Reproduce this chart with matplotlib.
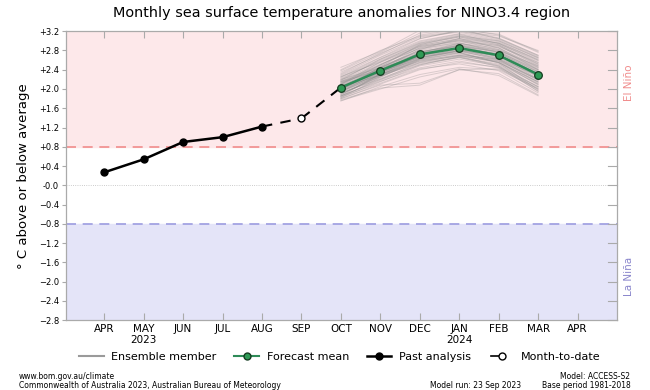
import matplotlib.pyplot as plt
import matplotlib.lines as mlines
from matplotlib.legend_handler import HandlerBase
import numpy as np

# month positions: 0 = APR 2023 ... 12 = APR 2024
months = ['APR', 'MAY\n2023', 'JUN', 'JUL', 'AUG', 'SEP', 'OCT', 'NOV',
          'DEC', 'JAN\n2024', 'FEB', 'MAR', 'APR']

past_x = [0, 1, 2, 3, 4]
past_vals = [0.27, 0.54, 0.90, 1.00, 1.22]

mtd_x = [5]
mtd_vals = [1.39]

fc_x = [6, 7, 8, 9, 10, 11]
fc_mean = [2.03, 2.38, 2.72, 2.85, 2.70, 2.30]

# ensemble members (OCT..MAR)
ensemble = [
    [1.95, 2.30, 2.65, 2.80, 2.65, 2.25],
    [2.10, 2.45, 2.80, 2.95, 2.80, 2.40],
    [1.85, 2.20, 2.55, 2.70, 2.55, 2.15],
    [2.20, 2.60, 2.95, 3.10, 2.95, 2.55],
    [2.00, 2.35, 2.70, 2.85, 2.70, 2.30],
    [1.90, 2.25, 2.60, 2.75, 2.55, 2.10],
    [2.15, 2.50, 2.85, 3.00, 2.90, 2.50],
    [1.80, 2.10, 2.40, 2.55, 2.45, 2.05],
    [2.05, 2.40, 2.75, 2.90, 2.75, 2.35],
    [2.25, 2.65, 3.00, 3.15, 3.00, 2.65],
    [1.95, 2.35, 2.75, 2.95, 2.85, 2.45],
    [2.05, 2.30, 2.60, 2.70, 2.55, 2.15],
    [1.88, 2.28, 2.68, 2.88, 2.78, 2.38],
    [2.12, 2.42, 2.70, 2.80, 2.60, 2.20],
    [1.98, 2.40, 2.82, 3.05, 2.95, 2.60],
    [2.30, 2.70, 3.05, 3.20, 3.05, 2.70],
    [1.75, 2.05, 2.30, 2.45, 2.40, 2.00],
    [2.00, 2.38, 2.66, 2.78, 2.62, 2.22],
    [2.08, 2.50, 2.90, 3.05, 2.85, 2.40],
    [1.92, 2.22, 2.52, 2.65, 2.50, 2.05],
    [2.18, 2.55, 2.88, 3.00, 2.82, 2.42],
    [1.85, 2.32, 2.72, 2.92, 2.80, 2.48],
    [2.02, 2.36, 2.68, 2.82, 2.68, 2.28],
    [2.10, 2.48, 2.78, 2.88, 2.72, 2.32],
    [1.96, 2.28, 2.58, 2.72, 2.60, 2.18],
    [2.22, 2.58, 2.92, 3.08, 2.92, 2.52],
    [1.82, 2.15, 2.48, 2.62, 2.48, 1.95],
    [2.06, 2.44, 2.82, 2.98, 2.88, 2.55],
    [1.94, 2.30, 2.62, 2.76, 2.58, 2.12],
    [2.14, 2.46, 2.74, 2.86, 2.66, 2.26],
    [2.40, 2.80, 3.10, 3.20, 3.10, 2.80],
    [1.78, 2.02, 2.08, 2.40, 2.32, 1.88],
    [2.00, 2.42, 2.86, 3.02, 2.90, 2.48],
    [2.04, 2.34, 2.64, 2.80, 2.70, 2.34],
    [1.90, 2.26, 2.64, 2.84, 2.74, 2.36],
    [2.16, 2.52, 2.84, 2.96, 2.76, 2.30],
    [1.98, 2.32, 2.70, 2.86, 2.72, 2.26],
    [2.08, 2.40, 2.76, 2.94, 2.82, 2.44],
    [1.86, 2.18, 2.50, 2.68, 2.58, 2.20],
    [2.24, 2.62, 2.96, 3.12, 2.98, 2.60],
    [2.02, 2.44, 2.78, 2.90, 2.70, 2.20],
    [1.94, 2.26, 2.56, 2.70, 2.62, 2.28],
    [2.12, 2.50, 2.88, 3.02, 2.86, 2.46],
    [1.80, 2.08, 2.12, 2.40, 2.42, 2.02],
    [2.06, 2.36, 2.62, 2.74, 2.56, 2.08],
    [2.45, 2.78, 3.22, 3.26, 3.12, 2.76],
    [2.35, 2.72, 3.12, 3.24, 3.06, 2.70],
    [1.76, 2.00, 2.25, 2.42, 2.28, 1.86],
    [2.28, 2.66, 3.04, 3.22, 3.14, 2.78],
    [1.84, 2.12, 2.42, 2.52, 2.38, 1.92],
    [2.18, 2.62, 2.98, 3.14, 2.94, 2.58],
    [1.92, 2.20, 2.50, 2.66, 2.46, 2.00],
    [2.26, 2.56, 2.90, 3.04, 2.92, 2.52],
    [1.88, 2.30, 2.70, 2.84, 2.62, 2.14],
    [2.32, 2.74, 3.08, 3.18, 3.02, 2.66],
    [1.82, 2.24, 2.62, 2.80, 2.68, 2.32],
    [2.14, 2.38, 2.66, 2.76, 2.54, 1.98],
    [1.98, 2.46, 2.92, 3.10, 3.00, 2.64],
    [2.20, 2.44, 2.68, 2.78, 2.64, 2.18],
    [1.96, 2.34, 2.76, 2.92, 2.76, 2.40],
    [2.04, 2.28, 2.54, 2.66, 2.52, 2.10],
    [2.10, 2.56, 2.94, 3.08, 2.96, 2.62],
    [1.86, 2.16, 2.44, 2.58, 2.44, 1.96],
    [2.38, 2.76, 3.16, 3.24, 3.04, 2.68],
    [2.00, 2.30, 2.58, 2.68, 2.48, 2.04],
    [2.16, 2.40, 2.72, 2.90, 2.78, 2.36],
]

yticks = np.arange(-2.8, 3.21, 0.4)
ytick_labels = []
for v in yticks:
    if abs(v) < 0.01:
        ytick_labels.append('-0.0')
    elif v > 0:
        ytick_labels.append('+%.1f' % v)
    else:
        ytick_labels.append('\u2212%.1f' % abs(v))


class HandlerMTD(HandlerBase):
    # short line on the left, open circle on the right
    def create_artists(self, legend, orig_handle, xdescent, ydescent,
                       width, height, fontsize, trans):
        y = height / 2 - ydescent
        x0 = -xdescent + width * 0.1
        line = mlines.Line2D([x0, x0 + width * 0.3], [y, y], color='black',
                             lw=1.2, transform=trans)
        mk = mlines.Line2D([x0 + width * 0.42], [y], ls='none', marker='o',
                           ms=5, mfc='white', mec='black', mew=1,
                           transform=trans)
        return [line, mk]


fig = plt.figure(figsize=(6.5, 3.9), dpi=100)
ax = fig.add_axes([0.1015, 0.179, 0.8477, 0.741])

ax.set_xlim(-0.97, 13.0)
ax.set_ylim(-2.8, 3.2)

# shaded regions
ax.axhspan(0.8, 3.2, color='#fde8ea', zorder=0)
ax.axhspan(-2.8, -0.8, color='#e4e4f8', zorder=0)
ax.axhline(0.8, color='#f08c8c', lw=1.2, dashes=(6, 4), zorder=1)
ax.axhline(-0.8, color='#9c9ce0', lw=1.2, dashes=(6, 4), zorder=1)
ax.axhline(0.0, color='#bbbbbb', lw=0.6, ls=':', zorder=1)

# ensemble
for mem in ensemble:
    ax.plot(fc_x, mem, color='#888888', lw=0.7, alpha=0.3, zorder=2)

# past analysis
ax.plot(past_x, past_vals, color='black', lw=1.8, marker='o', ms=5, zorder=4)
# dashed link to month-to-date and forecast
ax.plot([past_x[-1], mtd_x[0]], [past_vals[-1], mtd_vals[0]], color='black',
        lw=1.5, dashes=(5, 4), zorder=4)
ax.plot([mtd_x[0], fc_x[0]], [mtd_vals[0], fc_mean[0]], color='black',
        lw=1.5, dashes=(5, 4), zorder=4)
ax.plot(mtd_x, mtd_vals, ls='none', marker='o', ms=5, mfc='white',
        mec='black', mew=1, zorder=5)

# forecast mean
ax.plot(fc_x, fc_mean, color='#2e8b57', lw=1.8, marker='o', ms=5.5,
        mfc='#2e9a55', mec='#143c20', mew=0.9, zorder=5)

ax.set_xticks(range(len(months)))
ax.set_xticklabels(months, fontsize=7.5, linespacing=1.1)
ax.set_yticks(yticks)
ax.set_yticklabels(ytick_labels, fontsize=6)
ax.tick_params(axis='x', direction='in', length=5, color='#aaaaaa',
               top=True, pad=3)
ax.tick_params(axis='y', direction='out', length=3, color='#aaaaaa',
               pad=2, right=False)
# right-side inward ticks
for v in yticks:
    ax.plot([12.78, 13.0], [v, v], color='#aaaaaa', lw=0.8, zorder=3,
            clip_on=False)
for s in ax.spines.values():
    s.set_color('#aaaaaa')
    s.set_linewidth(0.9)

ax.set_ylabel('\u00b0 C above or below average', fontsize=9.5, labelpad=6)
ax.set_title('Monthly sea surface temperature anomalies for NINO3.4 region',
             fontsize=10.35, pad=10.5)

ax.text(1.012, 0.82, 'El Ni\u00f1o', transform=ax.transAxes, rotation=90,
        color='#f08c8c', fontsize=7.5, ha='left', va='center')
ax.text(1.012, 0.15, 'La Ni\u00f1a', transform=ax.transAxes, rotation=90,
        color='#8a86cc', fontsize=7.5, ha='left', va='center')

# legend
h1 = mlines.Line2D([], [], color='#9a9a9a', lw=1.5)
h2 = mlines.Line2D([], [], color='#2e8b57', lw=1.5, marker='o', ms=5,
                   mfc='#2e9a55', mec='#143c20')
h3 = mlines.Line2D([], [], color='black', lw=1.8, marker='o', ms=5)
h4 = mlines.Line2D([], [], color='black')
fig.legend([h1, h2, h3, h4],
           ['Ensemble member', 'Forecast mean', 'Past analysis', 'Month-to-date'],
           loc='center', bbox_to_anchor=(0.523, 0.085), ncol=4, frameon=False,
           fontsize=8, handlelength=2.2, columnspacing=1.6, handletextpad=0.7,
           handler_map={h4: HandlerMTD()})

fig.text(0.029, 0.028, 'www.bom.gov.au/climate', fontsize=5.5)
fig.text(0.029, 0.006,
         'Commonwealth of Australia 2023, Australian Bureau of Meteorology',
         fontsize=5.5)
fig.text(0.662, 0.006, 'Model run: 23 Sep 2023', fontsize=5.5)
fig.text(0.97, 0.028, 'Model: ACCESS-S2', fontsize=5.5, ha='right')
fig.text(0.97, 0.006, 'Base period 1981-2018', fontsize=5.5, ha='right')

fig.savefig('out.png', dpi=100)
